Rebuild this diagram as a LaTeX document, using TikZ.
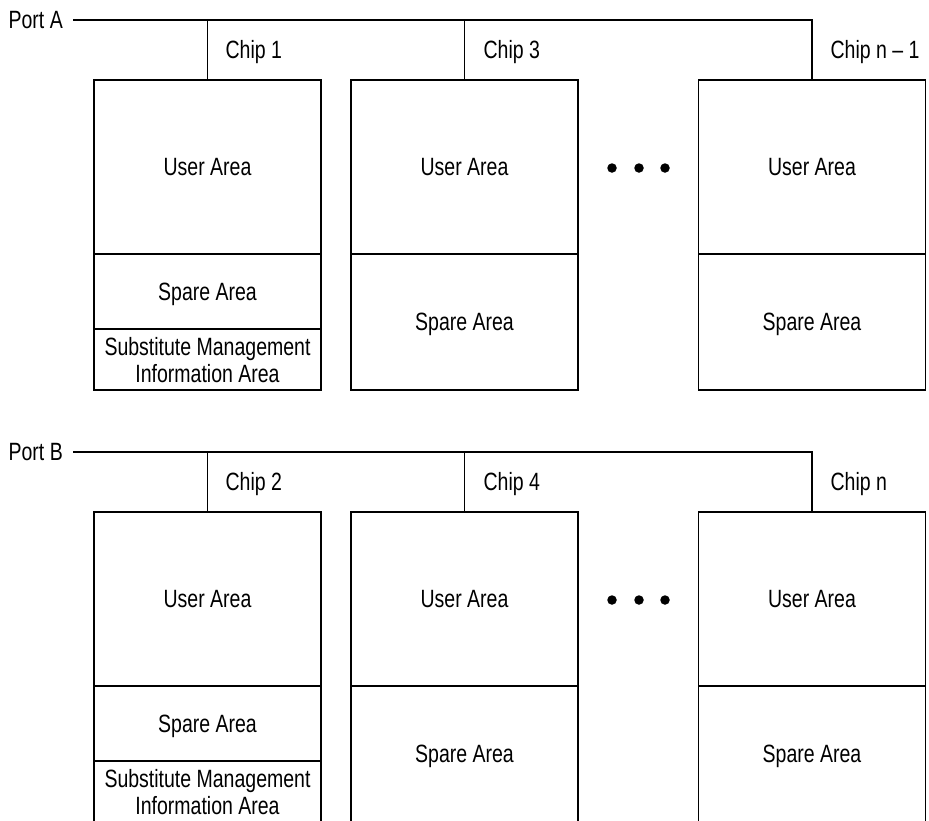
\documentclass[tikz,border=0pt]{standalone}
\usepackage{fontspec}
\setmainfont{Liberation Sans}[FakeStretch=0.78]
\begin{document}
\begin{tikzpicture}[x=1pt,y=-1pt,line width=1.2pt,
  area/.style={draw,rectangle,inner sep=0pt,minimum width=227pt,align=center,text depth=0pt,font=\fontsize{25}{27}\selectfont},
  lbl/.style={inner sep=0pt,font=\fontsize{25}{27}\selectfont},
  dotnode/.style={circle,fill,inner sep=0pt,minimum size=9.5pt}]
\useasboundingbox (0,0) rectangle (929,820);
\clip (0,0) rectangle (929,820);
% ---------- Port A section ----------
\begin{scope}
\node[lbl,anchor=west] (pA) at (8,20) {Port A};
\node[area,minimum height=174pt] (u1) at (207.5,167) {User Area};
\node[area,minimum height=75pt] (s1) at (207.5,291.5) {Spare Area};
\node[area,minimum height=61pt] (m1) at (207.5,359.5) {Substitute Management\\Information Area};
\node[area,minimum height=174pt] (u3) at (464.5,167) {User Area};
\node[area,minimum height=136pt] (s3) at (464.5,322) {Spare Area};
\node[area,minimum height=174pt] (un1) at (812,167) {User Area};
\node[area,minimum height=136pt] (sn1) at (812,322) {Spare Area};
\coordinate (a1) at (207.5,20);
\coordinate (a3) at (464.5,20);
\coordinate (an) at (812,20);
\draw ([xshift=10pt]pA.east) -- (an) -- (un1.north);
\draw (a1) -- (u1.north);
\draw (a3) -- (u3.north);
\node[lbl,anchor=west] (c1) at (225,52) {Chip 1};
\node[lbl,anchor=west] (c3) at (483,52) {Chip 3};
\node[lbl,anchor=west] (cn1) at (830,52) {Chip n -- 1};
\node[dotnode] (d1) at (612,168) {};
\node[dotnode] (d2) at (639,168) {};
\node[dotnode] (d3) at (665,168) {};
\end{scope}
% ---------- Port B section ----------
\begin{scope}[yshift=-432pt]
\node[lbl,anchor=west] (pB) at (8,20) {Port B};
\node[area,minimum height=174pt] (u2) at (207.5,167) {User Area};
\node[area,minimum height=75pt] (s2) at (207.5,291.5) {Spare Area};
\node[area,minimum height=61pt] (m2) at (207.5,359.5) {Substitute Management\\Information Area};
\node[area,minimum height=174pt] (u4) at (464.5,167) {User Area};
\node[area,minimum height=136pt] (s4) at (464.5,322) {Spare Area};
\node[area,minimum height=174pt] (un) at (812,167) {User Area};
\node[area,minimum height=136pt] (sn) at (812,322) {Spare Area};
\coordinate (b2) at (207.5,20);
\coordinate (b4) at (464.5,20);
\coordinate (bn) at (812,20);
\draw ([xshift=10pt]pB.east) -- (bn) -- (un.north);
\draw (b2) -- (u2.north);
\draw (b4) -- (u4.north);
\node[lbl,anchor=west] (c2) at (225,52) {Chip 2};
\node[lbl,anchor=west] (c4) at (483,52) {Chip 4};
\node[lbl,anchor=west] (cn) at (830,52) {Chip n};
\node[dotnode] (e1) at (612,168) {};
\node[dotnode] (e2) at (639,168) {};
\node[dotnode] (e3) at (665,168) {};
\end{scope}
\end{tikzpicture}
\end{document}
